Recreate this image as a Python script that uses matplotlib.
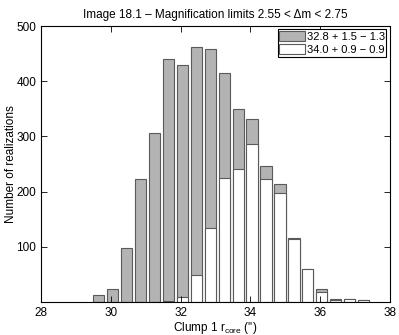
import numpy as np
import matplotlib
matplotlib.use("Agg")
import matplotlib.pyplot as plt

# bin centres (arcsec) and counts
centers = [29.65, 30.05, 30.45, 30.85, 31.25, 31.65, 32.05, 32.45, 32.85, 33.25,
           33.65, 34.05, 34.45, 34.85, 35.25, 35.65, 36.05, 36.45, 36.85, 37.25]
counts_all = [12, 23, 98, 222, 307, 441, 430, 462, 458, 415,
              349, 331, 247, 213, 115, 60, 23, 6, 5, 4]
counts_sel = [0, 0, 0, 0, 0, 1, 9, 48, 134, 225,
              241, 287, 222, 198, 114, 60, 18, 3, 5, 3]
labels = ["32.8 + 1.5 \u2212 1.3", "34.0 + 0.9 \u2212 0.9"]

plt.rcParams["font.family"] = ["Liberation Sans", "DejaVu Sans"]
plt.rcParams["font.size"] = 8.5

fig = plt.figure(figsize=(3.99, 3.35), dpi=100)
ax = fig.add_axes([0.103, 0.099, 0.874, 0.823])

w = 0.32
ax.bar(centers, counts_all, width=w, color="#b3b3b3", edgecolor="#5a5a5a",
       linewidth=0.8, label=labels[0])
ax.bar(centers, counts_sel, width=w, color="white", edgecolor="#5a5a5a",
       linewidth=0.8, label=labels[1])

ax.set_xlim(28, 38)
ax.set_ylim(0, 500)
ax.set_xticks([28, 30, 32, 34, 36, 38])
ax.set_yticks([100, 200, 300, 400, 500])
ax.tick_params(direction="in", top=True, right=True, length=4, width=0.6)
for s in ax.spines.values():
    s.set_linewidth(0.8)

ax.set_title("Image 18.1 \u2013 Magnification limits 2.55 < \u0394m < 2.75", fontsize=8.5)
ax.set_xlabel("Clump 1 r$_{\\mathregular{core}}$ ('')", labelpad=1)
ax.set_ylabel("Number of realizations", labelpad=-0.5)

leg = ax.legend(loc="upper right", fancybox=False, framealpha=1, edgecolor="black",
                fontsize=8, handlelength=2.3, handleheight=1.0, borderpad=0.15,
                labelspacing=0.2, handletextpad=0.15, borderaxespad=0.3)
leg.get_frame().set_linewidth(0.8)

fig.savefig("out.png", dpi=100)
